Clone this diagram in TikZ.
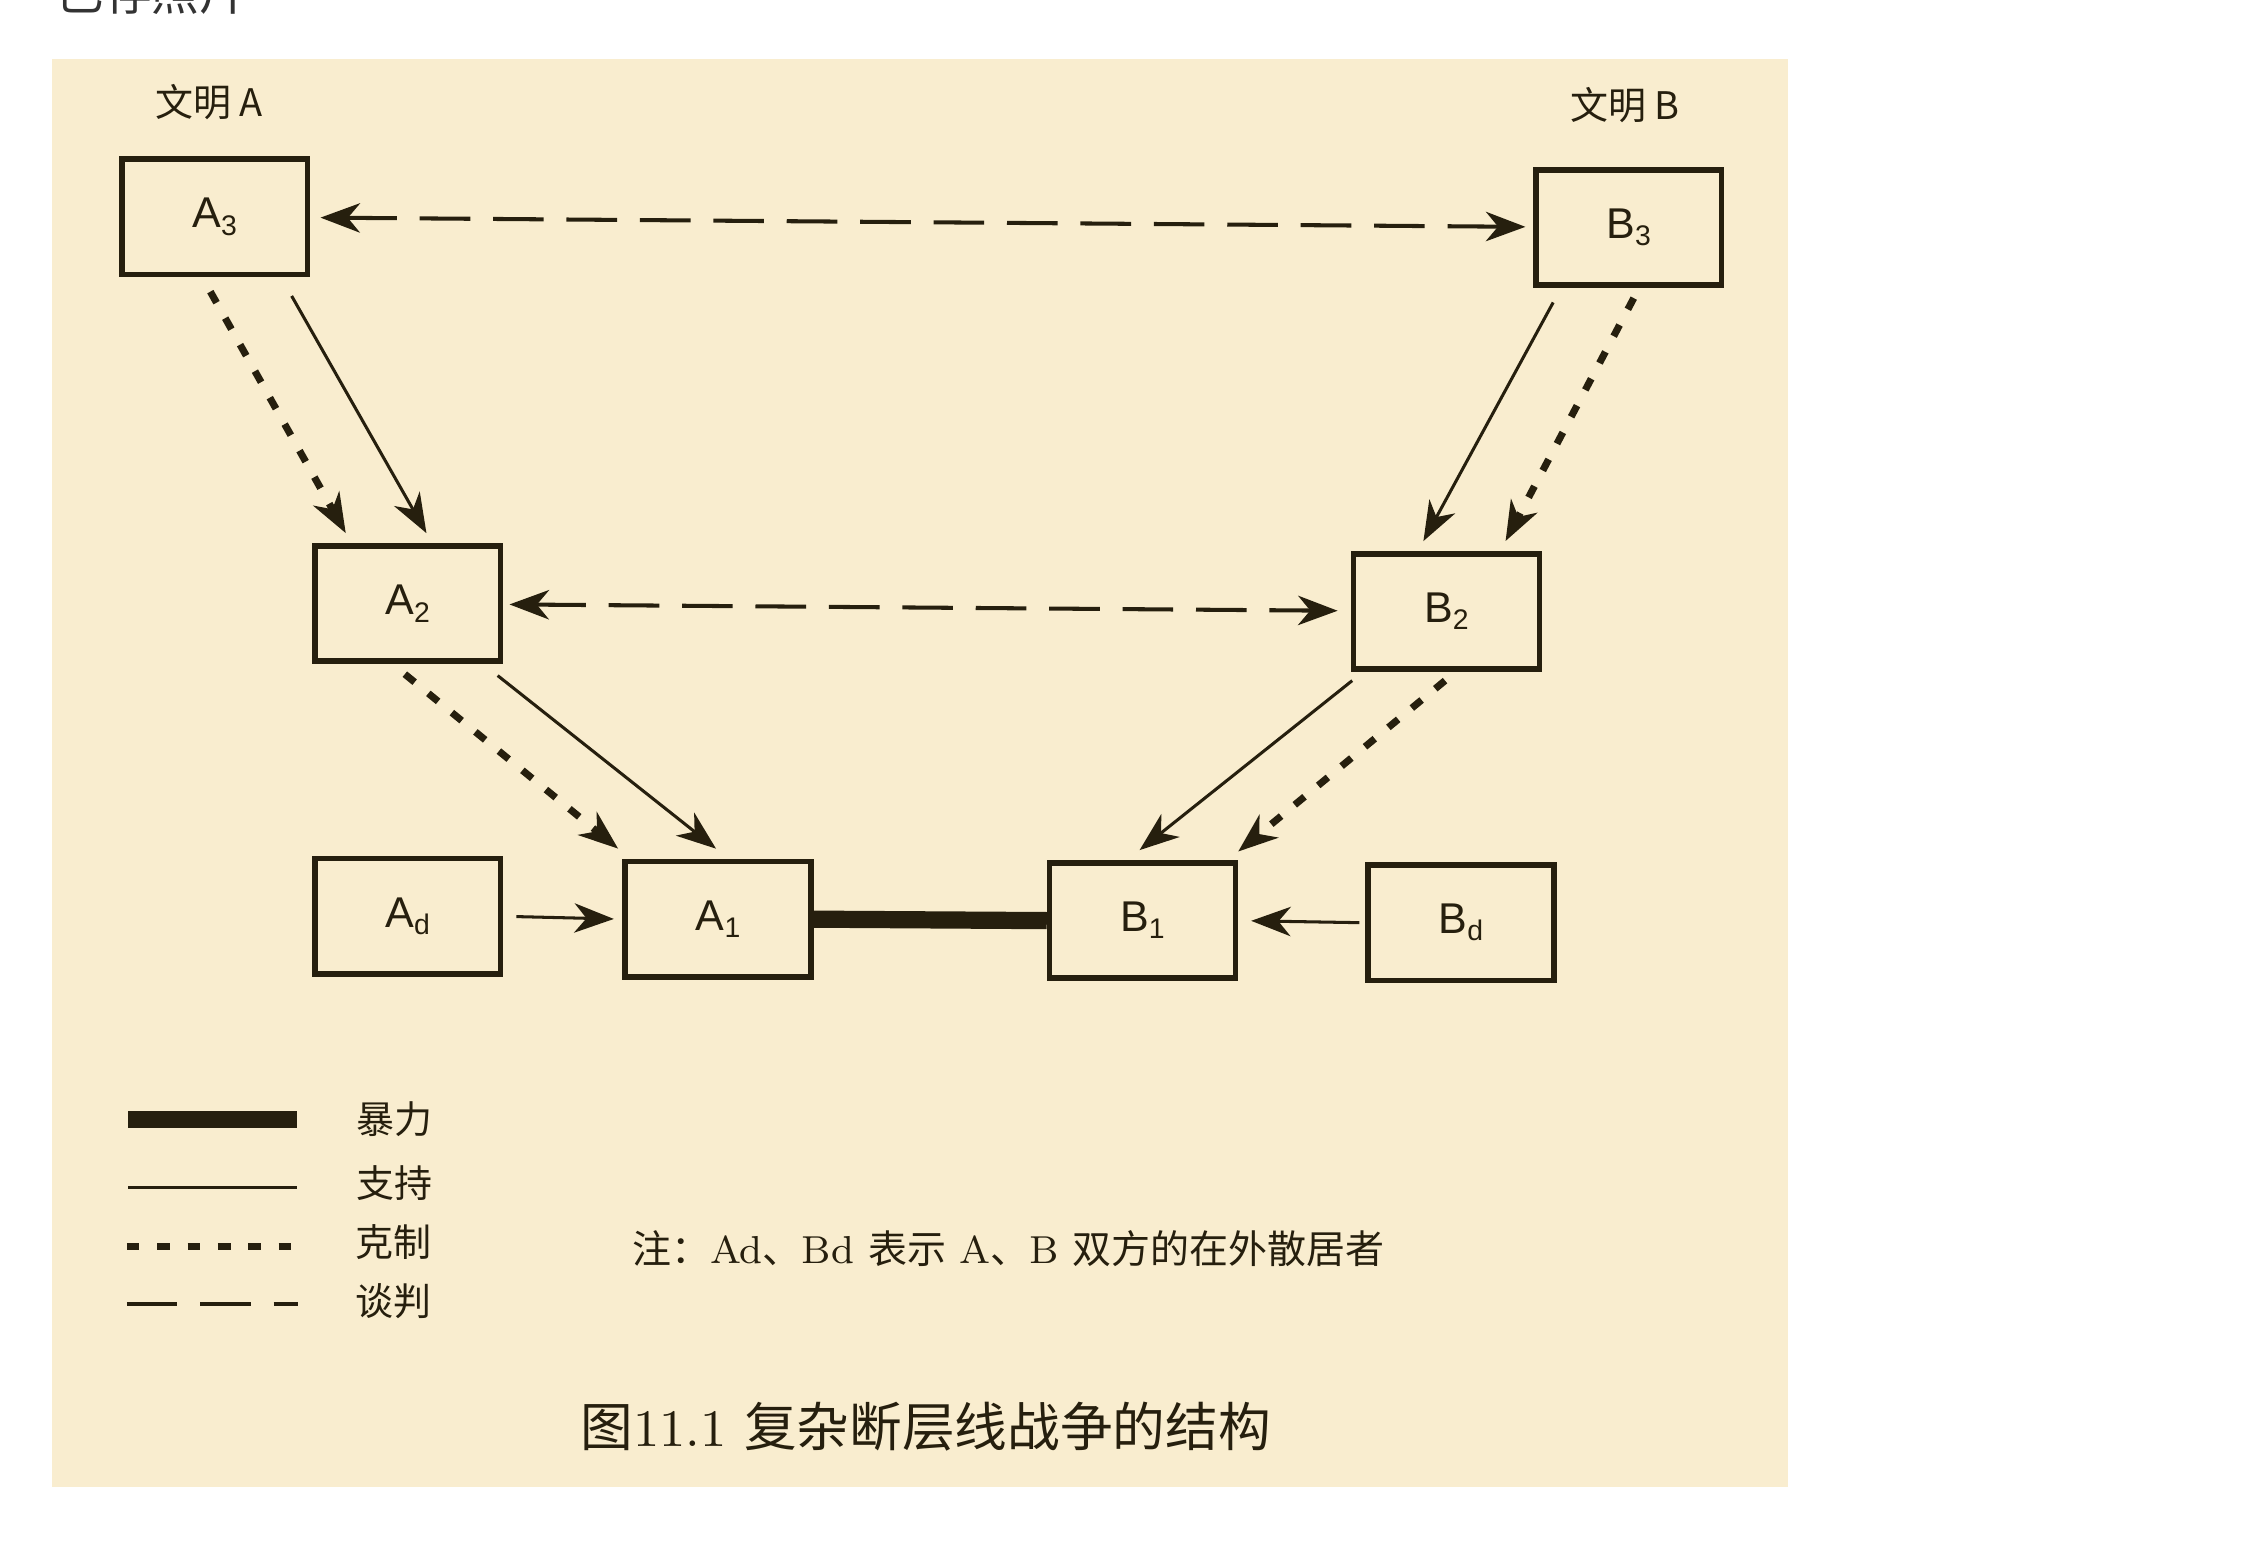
\documentclass[tikz,border=0pt]{standalone}
\usepackage{fontspec}
\setsansfont{Liberation Sans}
\newfontfamily\cjk{Noto Sans CJK SC}
\usetikzlibrary{arrows.meta}
\definecolor{paper}{RGB}{249,237,207}
\definecolor{ink}{RGB}{38,31,14}
\definecolor{shot}{RGB}{51,51,51}
\newcommand{\lowidx}[1]{\raisebox{-1.4pt}{\fontsize{5.6}{6}\selectfont #1}}

\begin{document}
\begin{tikzpicture}[
  box/.style={draw=ink, line width=1.1pt, minimum width=1.29cm, minimum height=0.8cm, inner sep=0pt, text=ink, font=\sffamily\fontsize{8.5}{9}\selectfont},
  tip/.style={-{Stealth[length=7.8pt,width=5.8pt,inset=2.4pt]}},
  tips/.style={{Stealth[length=7.8pt,width=5.8pt,inset=2.4pt]}-{Stealth[length=7.8pt,width=5.8pt,inset=2.4pt]}},
  backing/.style={draw=ink, line width=0.6pt},
  curb/.style={draw=ink, line width=1.4pt, dash pattern=on 2.5pt off 3.5pt},
  talk/.style={draw=ink, line width=0.8pt, dash pattern=on 10pt off 4.5pt},
  violence/.style={draw=ink, line width=3.4pt},
  lab/.style={text=ink, inner sep=0pt, font=\cjk\fontsize{7.5}{9}\selectfont}
]
\useasboundingbox[fill=white] (0,0) rectangle (15.68,10.724);
\node[anchor=base west, inner sep=0pt, text=shot, font=\cjk\fontsize{9.4}{11}\selectfont] (saved) at (0.385,10.65) {已存照片};
\fill[paper] (0.36,0.404) rectangle (12.41,10.314);

% civilisations
\node[lab] (civA) at (1.45,10.014) {文明 A};
\node[lab] (civB) at (11.28,9.994) {文明 B};

% parties
\node[box] (A3) at (1.49,9.219) {A\lowidx{3}};
\node[box] (B3) at (11.305,9.144) {B\lowidx{3}};
\node[box] (A2) at (2.83,6.534) {A\lowidx{2}};
\node[box] (B2) at (10.04,6.479) {B\lowidx{2}};
\node[box] (Ad) at (2.83,4.364) {A\lowidx{d}};
\node[box] (A1) at (4.985,4.344) {A\lowidx{1}};
\node[box] (B1) at (7.93,4.334) {B\lowidx{1}};
\node[box] (Bd) at (10.14,4.319) {B\lowidx{d}};

% negotiation
\draw[talk, tips, shorten <=2pt, shorten >=1.5pt] (A3) -- (B3);
\draw[talk, tips, shorten <=1.2pt, shorten >=2.6pt] (A2) -- (B2);

% support and control
\draw[backing, tip] ([shift={(-0.13,-0.13)}]A3.south east) -- ([shift={(0.13,0.07)}]A2.north);
\draw[curb, tip] ([shift={(-0.03,-0.10)}]A3.south) -- ([shift={(-0.43,0.07)}]A2.north);
\draw[backing, tip] ([shift={(0.14,-0.10)}]B3.south west) -- ([shift={(-0.16,0.07)}]B2.north);
\draw[curb, tip] ([shift={(0.035,-0.07)}]B3.south) -- ([shift={(0.41,0.07)}]B2.north);
\draw[backing, tip] ([shift={(-0.04,-0.08)}]A2.south east) -- ([shift={(-0.015,0.07)}]A1.north);
\draw[curb, tip] ([shift={(-0.02,-0.07)}]A2.south) -- ([shift={(-0.03,0.07)}]A1.north west);
\draw[backing, tip] ([shift={(0.01,-0.06)}]B2.south west) -- ([shift={(-0.02,0.07)}]B1.north);
\draw[curb, tip] ([shift={(-0.01,-0.06)}]B2.south) -- ([shift={(0,0.06)}]B1.north east);
\draw[backing, tip, shorten <=0.09cm, shorten >=0.06cm] (Ad.east) -- (A1.west);
\draw[backing, tip, shorten <=0.04cm, shorten >=0.09cm] (Bd.west) -- (B1.east);

% violence
\draw[violence] (A1.east) -- (B1.west);

% legend
\draw[violence] (0.89,2.954) -- (2.06,2.954);
\node[lab] (kViolence) at (2.74,2.954) {暴力};
\draw[backing] (0.89,2.484) -- (2.06,2.484);
\node[lab] (kSupport) at (2.74,2.514) {支持};
\draw[curb] (0.88,2.074) -- (2.07,2.074);
\node[lab] (kCurb) at (2.73,2.104) {克制};
\draw[talk] (0.88,1.674) -- (2.07,1.674);
\node[lab] (kTalk) at (2.73,1.694) {谈判};

\node[text=ink, font=\fontsize{7.7}{9}\selectfont] (note) at (7.00,2.054) {{\cjk 注：}Ad{\cjk 、}Bd {\cjk 表示} A{\cjk 、}B {\cjk 双方的在外散居者}};
\node[text=ink, font=\fontsize{10.4}{12}\selectfont] (caption) at (6.425,0.824) {{\cjk 图}11.1 {\cjk 复杂断层线战争的结构}};
\end{tikzpicture}
\end{document}
